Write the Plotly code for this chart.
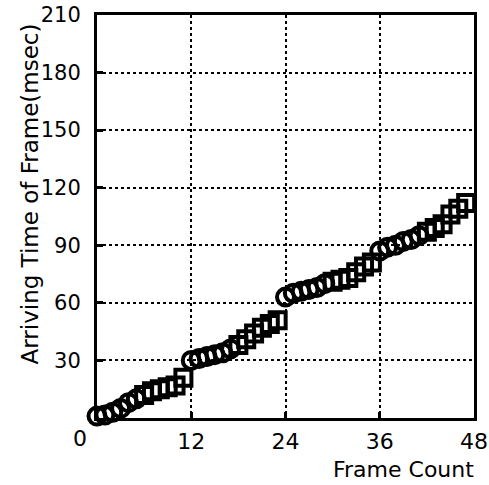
import plotly.graph_objects as go

circle_frames = [0, 1, 2, 3, 4, 5, 12, 13, 14, 15, 16, 17, 24, 25, 26, 27, 28, 29, 36, 37, 38, 39, 40, 41]
circle_times = [1, 1.5, 3, 5, 8, 10, 30, 31, 32, 33, 34, 36, 63, 65, 66, 67, 68, 70, 87, 89, 90, 92, 93, 95]
square_frames = [6, 7, 8, 9, 10, 11, 18, 19, 20, 21, 22, 23, 30, 31, 32, 33, 34, 35, 42, 43, 44, 45, 46, 47]
square_times = [12, 14, 15, 16, 17, 21, 38, 41, 44, 47, 49, 51, 71, 72, 73, 76, 79, 81, 97, 99, 101, 106, 109, 112]

x_ticks = [12, 24, 36, 48]
y_ticks = [30, 60, 90, 120, 150, 180, 210]
origin_label = "0"
x_title = "Frame Count"
y_title = "Arriving Time of Frame(msec)"

fam = "DejaVu Sans, Verdana, sans-serif"
xfont = dict(family=fam, size=22, color="black")
yfont = dict(family=fam, size=21, color="black")
tfont = dict(family=fam, size=23, color="black")

fig = go.Figure()
fig.add_trace(go.Scatter(x=circle_frames, y=circle_times, mode="markers",
                         marker=dict(symbol="circle-open", size=17, color="black",
                                     line=dict(width=4, color="black")),
                         cliponaxis=False, showlegend=False))
fig.add_trace(go.Scatter(x=square_frames, y=square_times, mode="markers",
                         marker=dict(symbol="square-open", size=16, color="black",
                                     line=dict(width=4, color="black")),
                         cliponaxis=False, showlegend=False))

fig.update_layout(
    width=489, height=485,
    margin=dict(l=97, r=15, t=15, b=67),
    plot_bgcolor="white", paper_bgcolor="white",
    xaxis=dict(range=[0, 48], tickvals=x_ticks, ticktext=[str(v) for v in x_ticks],
               showgrid=True, gridcolor="black", griddash="dot", gridwidth=2,
               showline=True, linecolor="black", linewidth=3, mirror=True,
               ticks="inside", ticklen=6, tickwidth=3, tickcolor="black",
               zeroline=False, tickfont=xfont, ticklabelstandoff=2, automargin=False,
               ticklabeloverflow="allow"),
    yaxis=dict(range=[0, 210], tickvals=y_ticks, ticktext=[str(v) for v in y_ticks],
               showgrid=True, gridcolor="black", griddash="dot", gridwidth=2,
               showline=True, linecolor="black", linewidth=3, mirror=True,
               ticks="inside", ticklen=6, tickwidth=3, tickcolor="black",
               zeroline=False, tickfont=yfont, ticklabelstandoff=9, automargin=False,
               ticklabeloverflow="allow"),
    annotations=[
        dict(text=origin_label, x=0, y=0, xref="x", yref="y", showarrow=False,
             xshift=-17, yshift=-20, font=xfont),
        dict(text=x_title, x=1, y=0, xref="paper", yref="paper", showarrow=False,
             xanchor="right", yanchor="top", yshift=-37, xshift=2, font=xfont),
        dict(text=y_title, x=0, y=0.5, xref="paper", yref="paper", showarrow=False,
             textangle=-90, xanchor="center", yanchor="middle", xshift=-68, yshift=22,
             font=tfont),
    ],
)

fig.write_html("out.html", config={"displayModeBar": False},
               post_script="document.body.style.margin='0';document.body.style.overflow='hidden';")
